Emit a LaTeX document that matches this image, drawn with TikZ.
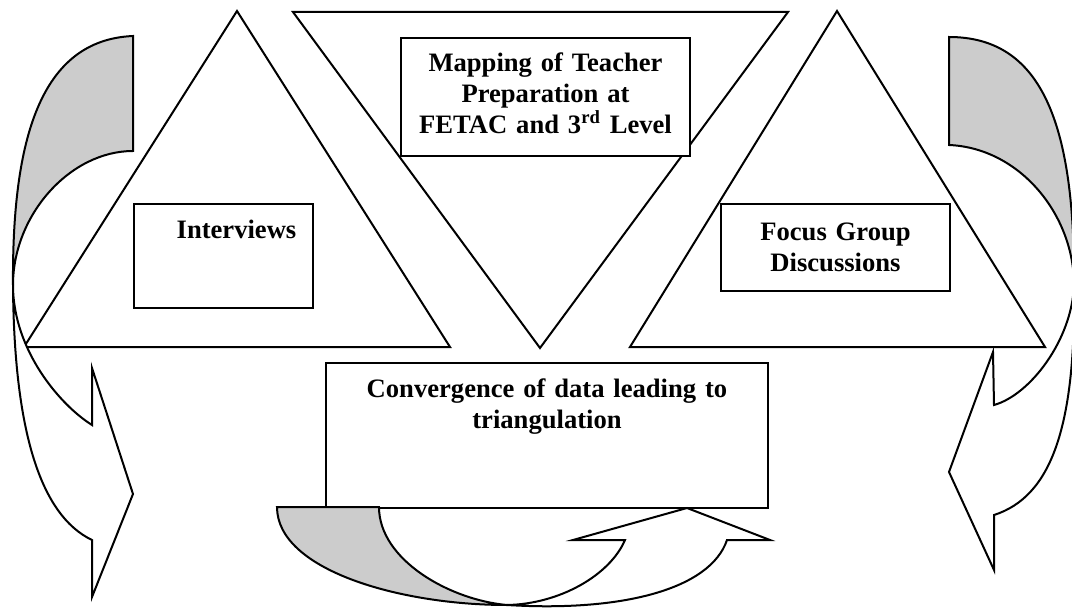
\documentclass[tikz,border=0pt]{standalone}
\usepackage{fontspec}
\setmainfont{Liberation Serif}
\tikzset{
  box/.style={draw, fill=white, line width=1pt, inner sep=0pt, anchor=north west,
    align=center, font=\fontsize{13.3}{15.5}\selectfont\bfseries},
  tri/.style={draw, line width=1pt},
  band/.style={draw, fill=white, line width=1pt},
  back/.style={draw, fill=black!20, line width=1pt}
}
\begin{document}
\begin{tikzpicture}[x=0.5pt,y=-0.5pt]
\useasboundingbox (0,0) rectangle (1072,610);
% the three triangles
\draw[tri] (237,11) -- (450,347) -- (24,347) -- cycle;
\draw[tri] (293,12) -- (788,12) -- (540,348) -- cycle;
\draw[tri] (837,11) -- (1045,347) -- (630,347) -- cycle;
% boxes
\node[box, text width=144.5pt, text height=17pt, text depth=42pt] (map) at (400,37)
  {Mapping of Teacher\\Preparation at\\FETAC and 3\textsuperscript{rd} Level};
\node[box, text width=89.5pt, text height=17.5pt, text depth=34.5pt] (interviews) at (133,203)
  {\hspace*{13pt}Interviews};
\node[box, text width=114.5pt, text height=18.5pt, text depth=25pt] (focus) at (720,203)
  {Focus Group\\Discussions};
\node[box, text width=221pt, text height=17pt, text depth=55.5pt] (conv) at (325,362)
  {Convergence of data leading to\\triangulation};
% left curved arrow
\coordinate (lc) at (13,285);
\draw[back] (133,36) -- (133,151) .. controls (70,151) and (13,215) .. (lc)
  .. controls (12,140) and (40,40) .. (133,36) -- cycle;
\draw[band] (lc) .. controls (14,430) and (40,515) .. (92,540) -- (92,597) -- (133,494)
  -- (92,368) -- (92,425) .. controls (60,405) and (13,350) .. (lc) -- cycle;
% right curved arrow
\coordinate (rc) at (1074,285);
\draw[back] (949,37) -- (949,145) .. controls (1020,148) and (1074,215) .. (rc)
  .. controls (1075,120) and (1040,37) .. (949,37) -- cycle;
\draw[band] (rc) .. controls (1076,430) and (1050,497) .. (994,515) -- (994,570) -- (949,472)
  -- (993,352) -- (994,405) .. controls (1030,395) and (1072,340) .. (rc) -- cycle;
% bottom curved arrow
\coordinate (bx) at (507,605);
\draw[back] (277,507) -- (379,507) .. controls (379,560) and (450,600) .. (bx)
  .. controls (400,605) and (277,570) .. (277,507) -- cycle;
\draw[band] (bx) .. controls (620,612) and (710,590) .. (727,540) -- (770,540) -- (687,508)
  -- (573,540) -- (625,540) .. controls (610,575) and (560,604) .. (bx) -- cycle;
\end{tikzpicture}
\end{document}
